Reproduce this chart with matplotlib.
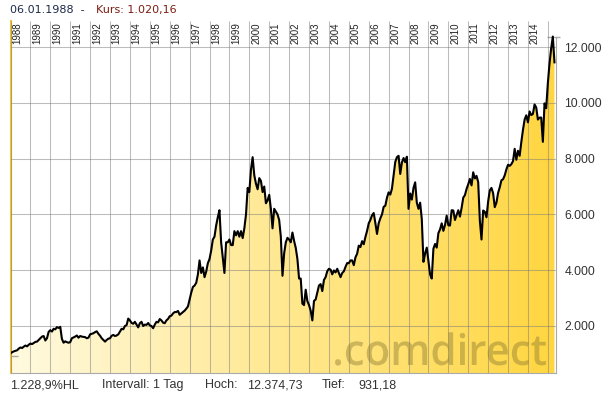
import matplotlib
matplotlib.use('Agg')
import numpy as np
import matplotlib.pyplot as plt
from matplotlib.colors import LinearSegmentedColormap
from matplotlib.textpath import TextPath
from matplotlib.font_manager import FontProperties
from matplotlib.patches import PathPatch
from matplotlib.transforms import Affine2D

# monthly levels, Jan 1988 .. May 2015
kurs = [
    1020, 1060, 1090, 1110, 1130, 1190, 1230, 1210, 1260, 1300, 1270, 1328,  # 1988
    1370, 1350, 1390, 1430, 1440, 1500, 1560, 1620, 1640, 1480, 1560, 1790,  # 1989
    1850, 1800, 1900, 1880, 1960, 1930, 1970, 1540, 1400, 1450, 1420, 1400,  # 1990
    1420, 1560, 1590, 1620, 1660, 1580, 1640, 1620, 1610, 1600, 1560, 1580,  # 1991
    1700, 1720, 1740, 1780, 1810, 1720, 1650, 1560, 1500, 1440, 1500, 1545,  # 1992
    1560, 1650, 1680, 1640, 1660, 1700, 1800, 1900, 1880, 2000, 2030, 2266,  # 1993
    2200, 2110, 2080, 2150, 2050, 1950, 2100, 2150, 2000, 2050, 2040, 2107,  # 1994
    2020, 2000, 1920, 2050, 2150, 2130, 2250, 2200, 2120, 2100, 2200, 2254,  # 1995
    2350, 2370, 2450, 2500, 2500, 2540, 2400, 2450, 2500, 2550, 2620, 2700,  # 1996
    2950, 3200, 3400, 3450, 3550, 3850, 4350, 3900, 4100, 3750, 3950, 4250,  # 1997
    4400, 4700, 5100, 5200, 5600, 5900, 6150, 5000, 4450, 3900, 5000, 5000,  # 1998
    5100, 4900, 4900, 5400, 5250, 5400, 5200, 5400, 5150, 5500, 6000, 6950,  # 1999
    6800, 7600, 8050, 7400, 7100, 6900, 7300, 7200, 6800, 7000, 6400, 6500,  # 2000
    6700, 6200, 5500, 6200, 6100, 6000, 5800, 5200, 3800, 4600, 5000, 5160,  # 2001
    5100, 5000, 5350, 5050, 4800, 4400, 3700, 3700, 2800, 2750, 3300, 2893,  # 2002
    2750, 2550, 2200, 2900, 2950, 3200, 3450, 3500, 3250, 3650, 3750, 3965,  # 2003
    4050, 4020, 3850, 3990, 3920, 4050, 3900, 3750, 3900, 3960, 4120, 4256,  # 2004
    4250, 4350, 4350, 4180, 4460, 4590, 4880, 4830, 5040, 4930, 5190, 5408,  # 2005
    5680, 5800, 5970, 6050, 5690, 5300, 5680, 5860, 6000, 6270, 6310, 6597,  # 2006
    6790, 6710, 6920, 7410, 7880, 8050, 8100, 7450, 7860, 8020, 7870, 8067,  # 2007
    6200, 6750, 6530, 6950, 7150, 6420, 6200, 6420, 5830, 4300, 4600, 4810,  # 2008
    4340, 3850, 3700, 4770, 4940, 4810, 5330, 5460, 5680, 5410, 5620, 5957,  # 2009
    5610, 5600, 6150, 6140, 5800, 5970, 6150, 5920, 6230, 6600, 6690, 6914,  # 2010
    7080, 7270, 7040, 7510, 7290, 7380, 7160, 5780, 5100, 6140, 6090, 5898,  # 2011
    6460, 6860, 6950, 6760, 6260, 6420, 6770, 6970, 7220, 7260, 7400, 7612,  # 2012
    7780, 7740, 7800, 7910, 8350, 7960, 8280, 8100, 8590, 9030, 9400, 9552,  # 2013
    9300, 9690, 9560, 9600, 9940, 9830, 9400, 9470, 9470, 8600, 9980, 9805,  # 2014
    10700, 11400, 11950, 12374, 11450,                                       # 2015
]
start_year = 1988
year_lines = list(range(1988, 2016))
year_labels = [str(y) for y in range(1988, 2015)]
y_ticks = [2000, 4000, 6000, 8000, 10000, 12000]
y_ticklabels = ['2.000', '4.000', '6.000', '8.000', '10.000', '12.000']
hoch = 12374.73
tief = 931.18

x = start_year + np.arange(len(kurs)) / 12.0
y = np.array(kurs, dtype=float)

W, H = 612, 397
fig = plt.figure(figsize=(W / 100, H / 100), dpi=100)
fig.patch.set_facecolor('white')

# plot box in pixels: left 10.5, right 556, top 21, bottom 373
ax = fig.add_axes([10.5 / W, 24 / H, (556 - 10.5) / W, 352 / H])
x0, x1 = 1988.0, 2015.41
y0, y1 = 315, 12932

# gradient fill under the curve
cmap = LinearSegmentedColormap.from_list('gelb', ['#fffae0', '#ffd640'])
grad = np.linspace(0, 1, 256).reshape(1, -1)
img = ax.imshow(grad, extent=[x0, x1, y0, y1], aspect='auto', cmap=cmap,
                origin='lower', zorder=1, interpolation='bilinear')
poly = ax.fill_between(x, y, y0, facecolor='none', edgecolor='none')
img.set_clip_path(poly.get_paths()[0], transform=ax.transData)

# grid above the fill
ax.vlines(year_lines, y0, y1, colors='#7a7a7a', alpha=0.5, lw=0.75, zorder=3)
ax.hlines(y_ticks, x0, x1, colors='#7a7a7a', alpha=0.5, lw=0.75, zorder=3)

ax.plot(x, y, color='black', lw=1.5, zorder=4)

ax.set_xlim(x0, x1)
ax.set_ylim(y0, y1)

ax.spines['top'].set_visible(False)
ax.spines['left'].set_color('#f2c230')
ax.spines['left'].set_linewidth(1.5)
ax.spines['bottom'].set_color('#aaaaaa')
ax.spines['right'].set_color('#aaaaaa')
ax.spines['right'].set_bounds(y0, hoch)

ax.set_xticks([])
ax.yaxis.tick_right()
ax.set_yticks(y_ticks)
ax.set_yticklabels(y_ticklabels, family='Liberation Sans', fontsize=8.8, color='#333333')
ax.tick_params(axis='y', length=0, pad=6)

# year labels at the top of each column
for yr, lab in zip(year_lines, year_labels):
    ax.text(yr + 0.09, 0.997, lab, transform=ax.get_xaxis_transform(),
            rotation=90, va='top', ha='left', fontsize=7,
            family='Liberation Sans', color='#222222', zorder=5)

# high / low markers
hl = ax.hlines(hoch, 2014.97, 2015.62, colors='#aaaaaa', lw=1)
hl.set_clip_on(False)
ax.hlines(tief, 1988.0, 1988.38, colors='#aaaaaa', lw=1)

# watermark
tp = TextPath((0, 0), '.comdirect', size=1,
              prop=FontProperties(family='Open Sans', weight='semibold'))
ext = tp.get_extents()
sx = (546 - 335) / ext.width
sy = 43
tr = Affine2D().translate(-ext.x0, 0).scale(sx, sy).translate(335, H - 365) \
    .scale(1 / W, 1 / H) + fig.transFigure
wm = PathPatch(tp, transform=tr, facecolor=(0.56, 0.49, 0.2), edgecolor='none', alpha=0.45)
fig.add_artist(wm)

# header
fig.text(10 / W, 1 - 10 / H, '06.01.1988  -', fontsize=8, color='#1c2a48',
         family='DejaVu Sans', va='center', ha='left')
fig.text(96 / W, 1 - 10 / H, 'Kurs: 1.020,16', fontsize=8, color='#7d1d12',
         family='DejaVu Sans', va='center', ha='left')

# footer
foot = [(10.5, '1.228,9%HL'), (102, 'Intervall: 1 Tag'), (205, 'Hoch:'),
        (247, '12.374,73'), (322, 'Tief:'), (358, '931,18')]
for px, s in foot:
    fig.text(px / W, 1 - 385 / H, s, fontsize=9, color='#333333',
             family='Liberation Sans', va='center', ha='left')

fig.savefig('out.png', dpi=100)
